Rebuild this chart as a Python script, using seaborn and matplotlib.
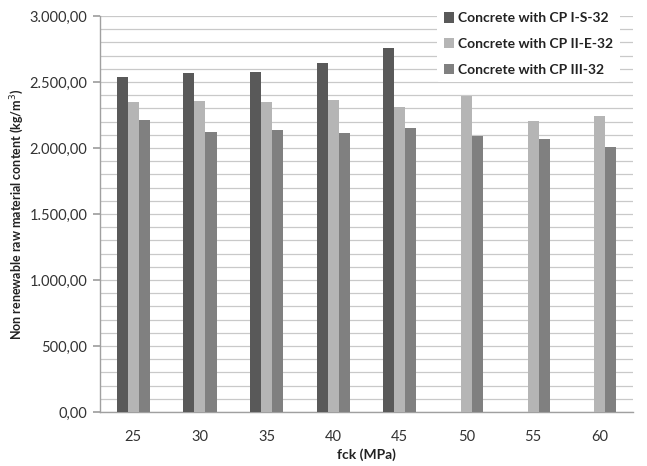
import matplotlib
matplotlib.use("Agg")
import matplotlib.pyplot as plt
from matplotlib.ticker import MultipleLocator, FuncFormatter
import numpy as np
import pandas as pd
import seaborn as sns

# Compressive strength classes (MPa)
fck = [25, 30, 35, 40, 45, 50, 55, 60]
series = ["Concrete with CP I-S-32", "Concrete with CP II-E-32", "Concrete with CP III-32"]
# Non renewable raw material content (kg/m3)
cp_i_s = [2535, 2565, 2578, 2641, 2760, np.nan, np.nan, np.nan]
cp_ii_e = [2346, 2356, 2346, 2364, 2311, 2394, 2205, 2245]
cp_iii = [2210, 2124, 2139, 2111, 2154, 2091, 2066, 2010]
colors = ["#595959", "#b5b5b5", "#808080"]

df = pd.DataFrame({
    "fck": fck * 3,
    "value": cp_i_s + cp_ii_e + cp_iii,
    "series": [s for s in series for _ in fck],
})

sns.set_theme(style="white")
plt.rcParams["font.family"] = ["Lato", "DejaVu Sans"]

fig = plt.figure(figsize=(6.47, 4.66), dpi=100)
ax = fig.add_axes([100 / 647, 54 / 466, 533 / 647, 396 / 466])

sns.barplot(data=df, x="fck", y="value", hue="series", hue_order=series,
            palette=colors, width=0.5, gap=0, errorbar=None, saturation=1,
            edgecolor="none", linewidth=0, ax=ax, zorder=3)

ax.set_ylim(0, 3000)
ax.yaxis.set_major_locator(MultipleLocator(500))
ax.yaxis.set_minor_locator(MultipleLocator(100))


def fmt(v, _):
    s = f"{v:,.2f}"
    return s.replace(",", "X").replace(".", ",").replace("X", ".")


ax.yaxis.set_major_formatter(FuncFormatter(fmt))
ax.grid(axis="y", which="both", color="#c9c9c9", linewidth=0.9, zorder=0)
ax.set_axisbelow(True)

for side in ["top", "right"]:
    ax.spines[side].set_visible(False)
for side in ["left", "bottom"]:
    ax.spines[side].set_color("#a0a0a0")
    ax.spines[side].set_linewidth(1.0)

ax.tick_params(axis="y", which="major", left=True, length=5, color="#a0a0a0",
               labelsize=10.5, labelcolor="#333333", pad=4)
ax.tick_params(axis="y", which="minor", left=False)
ax.tick_params(axis="x", bottom=False, labelsize=10.5, labelcolor="#333333", pad=7)

ax.set_xlabel("fck (MPa)", fontsize=10, fontweight="bold", color="#222222", labelpad=3)
ax.set_ylabel("Non renewable raw material content (kg/m$^3$)", fontsize=9,
              fontweight="bold", color="#222222")
ax.yaxis.set_label_coords(-0.138, 0.5)

leg = ax.legend(loc="upper right", bbox_to_anchor=(0.975, 1.025), frameon=True,
                fontsize=10, handlelength=0.75, handleheight=0.75, handletextpad=0.3,
                labelspacing=1.0, borderpad=0.45, borderaxespad=0)
leg.get_frame().set_facecolor("white")
leg.get_frame().set_edgecolor("none")
leg.get_frame().set_alpha(1)
for t in leg.get_texts():
    t.set_fontweight("bold")
    t.set_color("#222222")

fig.savefig("out.png", dpi=100, facecolor="white")
